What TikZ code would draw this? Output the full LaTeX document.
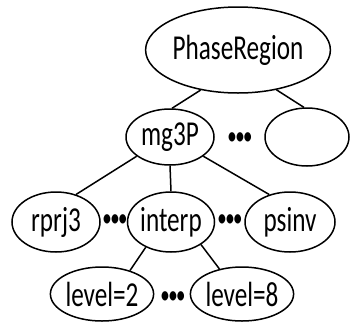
\documentclass[tikz,border=0pt]{standalone}
\usepackage{fontspec}
\setmainfont[FakeStretch=0.72]{Carlito}
\usetikzlibrary{shapes.geometric}
\tikzset{
  oval/.style={draw, ellipse, line width=1.5pt, inner sep=0pt, font=\fontsize{35}{35}\selectfont},
  edge/.style={line width=1.5pt},
  gap/.style={inner sep=0pt, font=\fontsize{22}{22}\selectfont\bfseries}
}
\begin{document}
\begin{tikzpicture}[x=1pt, y=-1pt]
  \useasboundingbox (0,0) rectangle (350,327);
  % tree nodes
  \node[oval, minimum width=150pt, minimum height=86pt] (root) at (238,50) {PhaseRegion};
  \node[oval, minimum width=88pt, minimum height=56pt] (mg) at (170,137) {mg3P};
  \node[oval, minimum width=84pt, minimum height=58pt] (other) at (307,137) {};
  \node[oval, minimum width=88pt, minimum height=60pt] (rprj) at (56,222) {rprj3};
  \node[oval, minimum width=86pt, minimum height=60pt] (interp) at (171,222) {interp};
  \node[oval, minimum width=90pt, minimum height=60pt] (psinv) at (290,222) {psinv};
  \node[oval, minimum width=90pt, minimum height=54pt] (lvla) at (102,294) {level=2};
  \node[oval, minimum width=92pt, minimum height=54pt] (lvlb) at (242,294) {level=8};
  % elided siblings
  \node[gap] (d1) at (240,138) {•••};
  \node[gap] (d2) at (115,220) {•••};
  \node[gap] (d3) at (230,220) {•••};
  \node[gap] (d4) at (173,297) {•••};
  % edges
  \draw[edge] (root.227) -- (mg.86);
  \draw[edge] (root.314) -- (other.96);
  \draw[edge] (mg.210) -- (rprj.54);
  \draw[edge] (mg.south) -- (interp.north);
  \draw[edge] (mg.330) -- (psinv.127);
  \draw[edge] (interp.225) -- (lvla.40);
  \draw[edge] (interp.323) -- (lvlb.132);
\end{tikzpicture}
\end{document}
